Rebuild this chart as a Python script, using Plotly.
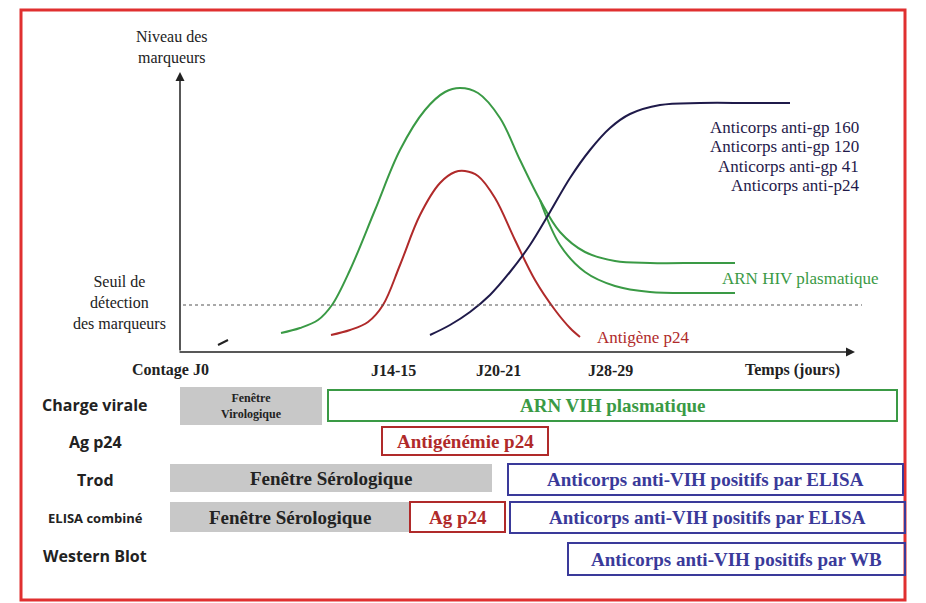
import plotly.graph_objects as go

# curves in image units (x: px across, y: px down)
green_x = [281, 300, 318, 332, 350, 375, 400, 425, 445, 460, 478, 500, 520, 540, 560, 585, 615, 650, 700, 735]
green_y = [333, 328, 320, 305, 270, 210, 150, 110, 92, 88, 93, 118, 160, 200, 232, 252, 261, 263, 263, 263]
green2_x = [540, 560, 585, 615, 650, 700, 735]
green2_y = [200, 245, 272, 286, 292, 293, 293]
red_x = [331, 350, 368, 383, 400, 420, 440, 455, 465, 478, 495, 515, 535, 555, 570, 580]
red_y = [335, 330, 322, 305, 265, 215, 183, 172, 171, 176, 198, 240, 280, 310, 328, 337]
ab_x = [430, 450, 470, 490, 510, 530, 550, 570, 590, 610, 630, 660, 700, 750, 790]
ab_y = [335, 325, 312, 295, 272, 245, 212, 178, 150, 128, 114, 105, 103, 103, 103]

time_ticks = ["Contage J0", "J14-15", "J20-21", "J28-29", "Temps (jours)"]
tick_x = [170, 393, 498, 610, 792]
antibodies = ["Anticorps anti-gp 160", "Anticorps anti-gp 120", "Anticorps anti-gp 41", "Anticorps anti-p24"]

rows = ["Charge virale", "Ag p24", "Trod", "ELISA combiné", "Western Blot"]
row_y = [405, 442, 480, 518, 556]
# boxes: (x0, x1, y0, y1, kind, text)
boxes = [
    (180, 322, 387, 425, "grey", "Fenêtre<br>Virologique"),
    (328, 897, 390, 421, "green", "ARN VIH plasmatique"),
    (382, 548, 427, 455, "red", "Antigénémie p24"),
    (170, 492, 464, 492, "grey", "Fenêtre Sérologique"),
    (508, 903, 464, 495, "blue", "Anticorps anti-VIH positifs par ELISA"),
    (170, 410, 502, 532, "grey", "Fenêtre Sérologique"),
    (410, 505, 502, 532, "red", "Ag p24"),
    (510, 905, 502, 533, "blue", "Anticorps anti-VIH positifs par ELISA"),
    (568, 905, 543, 575, "blue", "Anticorps anti-VIH positifs par WB"),
]

GREEN = "#3a9a45"
RED = "#b02a2a"
NAVY = "#1f1a4a"
BLUE = "#3a3a9a"
SERIF = "Liberation Serif"
colors = {"grey": "#222222", "green": GREEN, "red": RED, "blue": BLUE}

fig = go.Figure()
for xs, ys, c in [(green_x, green_y, GREEN), (green2_x, green2_y, GREEN),
                  (red_x, red_y, RED), (ab_x, ab_y, NAVY), ([218, 228], [345, 340], "#222")]:
    fig.add_scatter(x=xs, y=ys, mode="lines", line=dict(color=c, width=2, shape="spline"),
                    hoverinfo="skip", showlegend=False)

shapes = [
    dict(type="rect", x0=21, x1=905, y0=10, y1=600, line=dict(color="#e03030", width=3)),
    dict(type="line", x0=183, x1=862, y0=305, y1=305, line=dict(color="#555", width=1.2, dash="dot")),
]
for x0, x1, y0, y1, kind, _ in boxes:
    if kind == "grey":
        shapes.append(dict(type="rect", x0=x0, x1=x1, y0=y0, y1=y1, fillcolor="#c8c8c8", line=dict(width=0), layer="below"))
    else:
        shapes.append(dict(type="rect", x0=x0, x1=x1, y0=y0, y1=y1, line=dict(color=colors[kind], width=2)))
fig.update_layout(shapes=shapes)

ann = []
# axes arrows
ann.append(dict(x=180, y=72, ax=180, ay=352, xref="x", yref="y", axref="x", ayref="y",
                showarrow=True, arrowhead=2, arrowsize=1.2, arrowwidth=1.5, arrowcolor="#222", text=""))
ann.append(dict(x=855, y=352, ax=178, ay=352, xref="x", yref="y", axref="x", ayref="y",
                showarrow=True, arrowhead=2, arrowsize=1.2, arrowwidth=1.5, arrowcolor="#222", text=""))

def txt(x, y, t, color="#222", size=15, xanchor="center", font=SERIF, align="center"):
    ann.append(dict(x=x, y=y, text=t, showarrow=False, xanchor=xanchor, yanchor="middle", align=align,
                    font=dict(family=font, size=size, color=color)))

txt(172, 47, "Niveau des<br>marqueurs", size=16)
txt(168, 303, "Seuil de<br>détection<br>des marqueurs", size=16, xanchor="right", align="center")
for t, x in zip(time_ticks, tick_x):
    txt(x, 370, "<b>%s</b>" % t, size=16)
for i, t in enumerate(antibodies):
    txt(861, 127 + i * 19.5, t, color=NAVY, size=17, xanchor="right")
txt(800, 278, "ARN HIV plasmatique", color=GREEN, size=17)
txt(643, 337, "Antigène p24", color=RED, size=17)

for r, y in zip(rows, row_y):
    txt(95, y, "<b>%s</b>" % r, size=16 if r != "ELISA combiné" else 13, font="Open Sans")
for x0, x1, y0, y1, kind, t in boxes:
    size = 12 if "Virologique" in t else 19
    txt((x0 + x1) / 2, (y0 + y1) / 2, "<b>%s</b>" % t, color=colors[kind], size=size)
fig.update_layout(annotations=ann)

# page body has an 8px margin, so shift the ranges to line up with the window
fig.update_xaxes(range=[8, 934], visible=False, fixedrange=True)
fig.update_yaxes(range=[611, 8], visible=False, fixedrange=True)
fig.update_layout(width=926, height=603, margin=dict(l=0, r=0, t=0, b=0),
                  plot_bgcolor="white", paper_bgcolor="white")
fig.write_html("out.html")
